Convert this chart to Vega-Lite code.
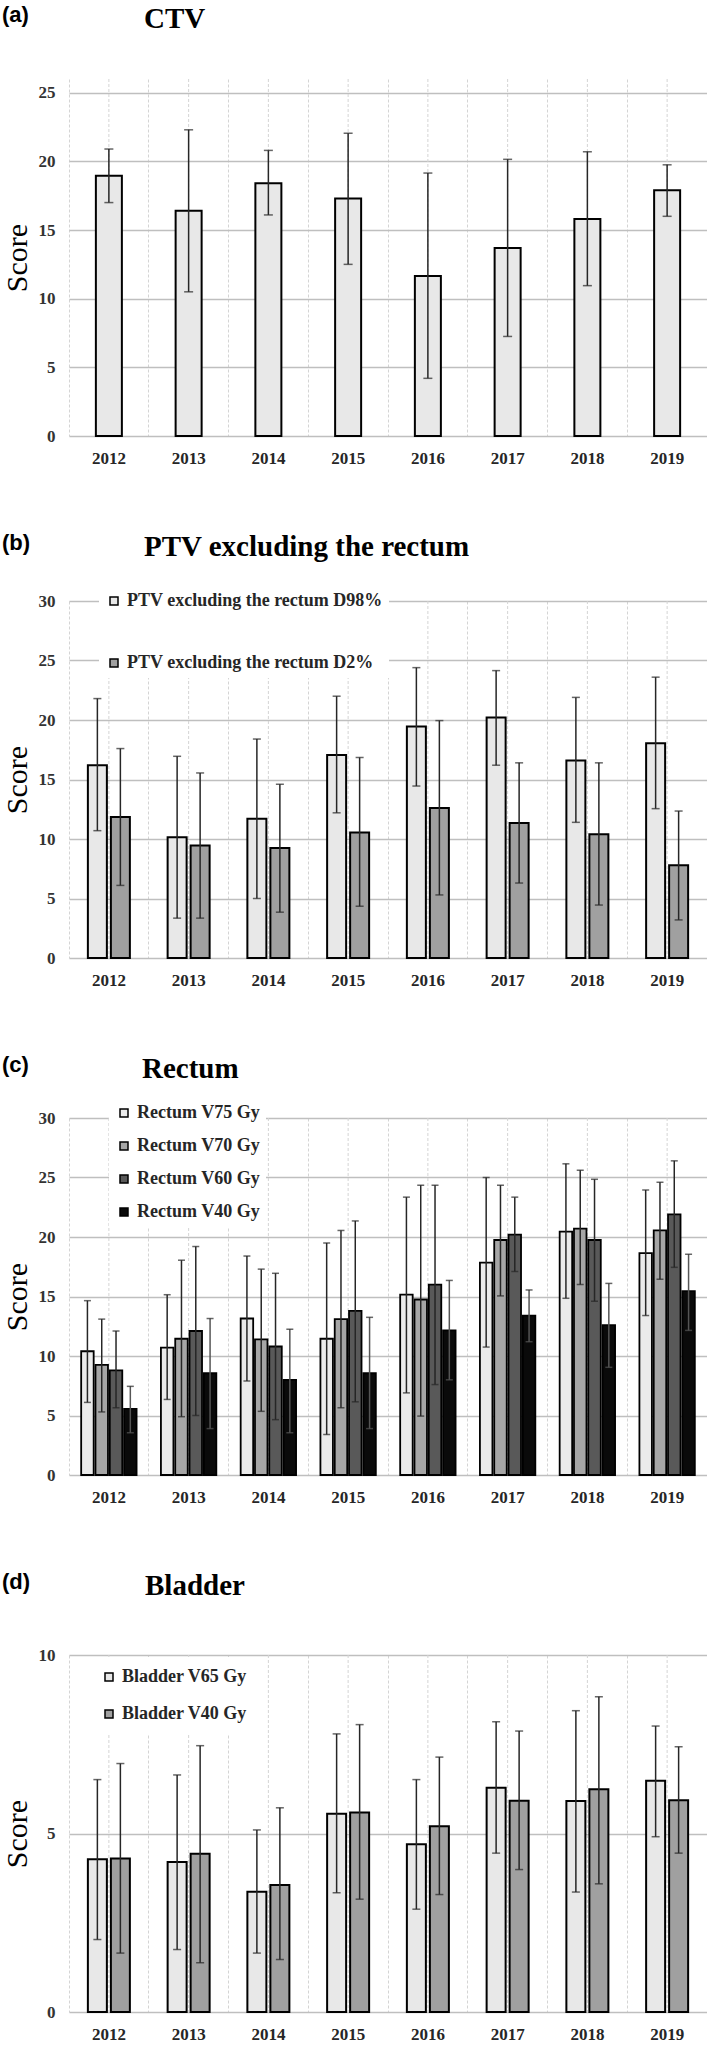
{
  "$schema": "https://vega.github.io/schema/vega-lite/v6.json",
  "padding": {"left": 2, "top": 3, "right": 0, "bottom": 0},
  "spacing": 66,
  "resolve": {"scale": {"color": "independent"}, "legend": {"color": "independent"}},
  "config": {
    "view": {"stroke": null},
    "font": "Liberation Serif",
    "concat": {"spacing": 0},
    "title": {"anchor": "start", "color": "black"},
    "axisX": {"labelAngle": 0, "labelFont": "Liberation Serif", "labelFontSize": 17, "labelFontWeight": "bold", "labelColor": "#262626", "labelPadding": 14, "ticks": false, "domain": false, "grid": true, "bandPosition": 0, "gridDash": [3, 2], "gridColor": "#d4d4d4", "gridWidth": 1},
    "axisY": {"titleFont": "Liberation Serif", "titleFontSize": 30, "titleFontWeight": "normal", "titleColor": "black", "titlePadding": 6, "labelFont": "Liberation Serif", "labelFontWeight": "bold", "labelFontSize": 17, "labelColor": "#333333", "labelPadding": 14, "ticks": false, "domain": false, "grid": true, "gridColor": "#bfbfbf", "gridWidth": 1.5},
    "legend": {"orient": "none", "fillColor": "white", "padding": 6, "symbolType": "square", "symbolSize": 64, "symbolStrokeColor": "black", "symbolStrokeWidth": 1.5, "labelFont": "Liberation Serif", "labelFontWeight": "bold", "labelFontSize": 18, "labelColor": "#262626", "labelOffset": 4, "labelLimit": 400},
    "rule": {"color": "#262626", "strokeWidth": 1.5},
    "tick": {"color": "#262626", "thickness": 1.5}
  },
  "datasets": {
    "ctv": [
      {"year": "2012", "score": 18.95, "low": 17.0, "high": 20.9},
      {"year": "2013", "score": 16.4, "low": 10.5, "high": 22.3},
      {"year": "2014", "score": 18.4, "low": 16.1, "high": 20.8},
      {"year": "2015", "score": 17.3, "low": 12.5, "high": 22.05},
      {"year": "2016", "score": 11.65, "low": 4.2, "high": 19.15},
      {"year": "2017", "score": 13.7, "low": 7.25, "high": 20.15},
      {"year": "2018", "score": 15.8, "low": 10.95, "high": 20.7},
      {"year": "2019", "score": 17.9, "low": 16.0, "high": 19.75}
    ],
    "ptv": [
      {"year": "2012", "series": "PTV excluding the rectum D98%", "score": 16.2, "low": 10.7, "high": 21.8},
      {"year": "2012", "series": "PTV excluding the rectum D2%", "score": 11.85, "low": 6.1, "high": 17.6},
      {"year": "2013", "series": "PTV excluding the rectum D98%", "score": 10.15, "low": 3.35, "high": 16.95},
      {"year": "2013", "series": "PTV excluding the rectum D2%", "score": 9.45, "low": 3.35, "high": 15.55},
      {"year": "2014", "series": "PTV excluding the rectum D98%", "score": 11.7, "low": 5.0, "high": 18.4},
      {"year": "2014", "series": "PTV excluding the rectum D2%", "score": 9.25, "low": 3.85, "high": 14.6},
      {"year": "2015", "series": "PTV excluding the rectum D98%", "score": 17.05, "low": 12.2, "high": 22.0},
      {"year": "2015", "series": "PTV excluding the rectum D2%", "score": 10.55, "low": 4.35, "high": 16.85},
      {"year": "2016", "series": "PTV excluding the rectum D98%", "score": 19.45, "low": 14.45, "high": 24.4},
      {"year": "2016", "series": "PTV excluding the rectum D2%", "score": 12.6, "low": 5.3, "high": 19.95},
      {"year": "2017", "series": "PTV excluding the rectum D98%", "score": 20.2, "low": 16.2, "high": 24.15},
      {"year": "2017", "series": "PTV excluding the rectum D2%", "score": 11.35, "low": 6.3, "high": 16.4},
      {"year": "2018", "series": "PTV excluding the rectum D98%", "score": 16.6, "low": 11.4, "high": 21.9},
      {"year": "2018", "series": "PTV excluding the rectum D2%", "score": 10.4, "low": 4.45, "high": 16.4},
      {"year": "2019", "series": "PTV excluding the rectum D98%", "score": 18.05, "low": 12.55, "high": 23.6},
      {"year": "2019", "series": "PTV excluding the rectum D2%", "score": 7.8, "low": 3.2, "high": 12.35}
    ],
    "rectum": [
      {"year": "2012", "series": "Rectum V75 Gy", "score": 10.4, "low": 6.1, "high": 14.65},
      {"year": "2012", "series": "Rectum V70 Gy", "score": 9.25, "low": 5.3, "high": 13.1},
      {"year": "2012", "series": "Rectum V60 Gy", "score": 8.8, "low": 5.65, "high": 12.1},
      {"year": "2012", "series": "Rectum V40 Gy", "score": 5.55, "low": 3.55, "high": 7.45},
      {"year": "2013", "series": "Rectum V75 Gy", "score": 10.7, "low": 6.35, "high": 15.15},
      {"year": "2013", "series": "Rectum V70 Gy", "score": 11.45, "low": 4.9, "high": 18.05},
      {"year": "2013", "series": "Rectum V60 Gy", "score": 12.1, "low": 5.0, "high": 19.2},
      {"year": "2013", "series": "Rectum V40 Gy", "score": 8.55, "low": 3.9, "high": 13.15},
      {"year": "2014", "series": "Rectum V75 Gy", "score": 13.15, "low": 7.9, "high": 18.4},
      {"year": "2014", "series": "Rectum V70 Gy", "score": 11.4, "low": 5.35, "high": 17.3},
      {"year": "2014", "series": "Rectum V60 Gy", "score": 10.8, "low": 4.65, "high": 16.95},
      {"year": "2014", "series": "Rectum V40 Gy", "score": 8.0, "low": 3.55, "high": 12.25},
      {"year": "2015", "series": "Rectum V75 Gy", "score": 11.45, "low": 3.4, "high": 19.5},
      {"year": "2015", "series": "Rectum V70 Gy", "score": 13.1, "low": 5.65, "high": 20.55},
      {"year": "2015", "series": "Rectum V60 Gy", "score": 13.8, "low": 6.15, "high": 21.35},
      {"year": "2015", "series": "Rectum V40 Gy", "score": 8.55, "low": 3.9, "high": 13.25},
      {"year": "2016", "series": "Rectum V75 Gy", "score": 15.15, "low": 6.9, "high": 23.35},
      {"year": "2016", "series": "Rectum V70 Gy", "score": 14.75, "low": 4.95, "high": 24.35},
      {"year": "2016", "series": "Rectum V60 Gy", "score": 16.0, "low": 7.6, "high": 24.35},
      {"year": "2016", "series": "Rectum V40 Gy", "score": 12.15, "low": 8.0, "high": 16.35},
      {"year": "2017", "series": "Rectum V75 Gy", "score": 17.85, "low": 10.75, "high": 25.0},
      {"year": "2017", "series": "Rectum V70 Gy", "score": 19.75, "low": 15.05, "high": 24.35},
      {"year": "2017", "series": "Rectum V60 Gy", "score": 20.2, "low": 17.1, "high": 23.35},
      {"year": "2017", "series": "Rectum V40 Gy", "score": 13.4, "low": 11.2, "high": 15.55},
      {"year": "2018", "series": "Rectum V75 Gy", "score": 20.45, "low": 14.85, "high": 26.15},
      {"year": "2018", "series": "Rectum V70 Gy", "score": 20.7, "low": 16.0, "high": 25.6},
      {"year": "2018", "series": "Rectum V60 Gy", "score": 19.75, "low": 14.6, "high": 24.85},
      {"year": "2018", "series": "Rectum V40 Gy", "score": 12.6, "low": 9.05, "high": 16.1},
      {"year": "2019", "series": "Rectum V75 Gy", "score": 18.65, "low": 13.4, "high": 23.95},
      {"year": "2019", "series": "Rectum V70 Gy", "score": 20.55, "low": 16.45, "high": 24.6},
      {"year": "2019", "series": "Rectum V60 Gy", "score": 21.9, "low": 17.45, "high": 26.4},
      {"year": "2019", "series": "Rectum V40 Gy", "score": 15.45, "low": 12.15, "high": 18.55}
    ],
    "bladder": [
      {"year": "2012", "series": "Bladder V65 Gy", "score": 4.28, "low": 2.03, "high": 6.51},
      {"year": "2012", "series": "Bladder V40 Gy", "score": 4.3, "low": 1.65, "high": 6.96},
      {"year": "2013", "series": "Bladder V65 Gy", "score": 4.2, "low": 1.75, "high": 6.64},
      {"year": "2013", "series": "Bladder V40 Gy", "score": 4.43, "low": 1.38, "high": 7.46},
      {"year": "2014", "series": "Bladder V65 Gy", "score": 3.37, "low": 1.65, "high": 5.1},
      {"year": "2014", "series": "Bladder V40 Gy", "score": 3.56, "low": 1.47, "high": 5.72},
      {"year": "2015", "series": "Bladder V65 Gy", "score": 5.55, "low": 3.34, "high": 7.79},
      {"year": "2015", "series": "Bladder V40 Gy", "score": 5.59, "low": 3.16, "high": 8.05},
      {"year": "2016", "series": "Bladder V65 Gy", "score": 4.7, "low": 2.88, "high": 6.51},
      {"year": "2016", "series": "Bladder V40 Gy", "score": 5.2, "low": 3.29, "high": 7.14},
      {"year": "2017", "series": "Bladder V65 Gy", "score": 6.28, "low": 4.45, "high": 8.13},
      {"year": "2017", "series": "Bladder V40 Gy", "score": 5.92, "low": 3.99, "high": 7.87},
      {"year": "2018", "series": "Bladder V65 Gy", "score": 5.91, "low": 3.36, "high": 8.44},
      {"year": "2018", "series": "Bladder V40 Gy", "score": 6.24, "low": 3.59, "high": 8.83},
      {"year": "2019", "series": "Bladder V65 Gy", "score": 6.48, "low": 4.91, "high": 8.01},
      {"year": "2019", "series": "Bladder V40 Gy", "score": 5.93, "low": 4.45, "high": 7.43}
    ]
  },
  "vconcat": [
    {
      "title": {"text": "(a)", "frame": "bounds", "font": "Liberation Sans", "fontSize": 22, "fontWeight": "bold", "offset": -22},
      "vconcat": [{
        "width": 638, "height": 357,
        "title": {"text": "CTV", "frame": "group", "dx": 75, "font": "Liberation Serif", "fontSize": 29, "fontWeight": "bold", "offset": 45},
        "data": {"name": "ctv"},
        "encoding": {"x": {"field": "year", "type": "nominal", "title": null, "scale": {"paddingInner": 0, "paddingOuter": 0}}},
        "layer": [
          {"mark": {"type": "rule", "strokeDash": [3, 2], "color": "#d4d4d4", "strokeWidth": 1}, "encoding": {}},
          {"mark": {"type": "bar", "width": 26, "fill": "#e8e8e8", "stroke": "black", "strokeWidth": 2},
           "encoding": {"y": {"field": "score", "type": "quantitative", "title": "Score", "scale": {"domain": [0, 25]}, "axis": {"values": [0, 5, 10, 15, 20, 25]}}}},
          {"mark": {"type": "rule"}, "encoding": {"y": {"field": "low", "type": "quantitative"}, "y2": {"field": "high"}}},
          {"mark": {"type": "tick"}, "encoding": {"y": {"field": "low", "type": "quantitative"}, "size": {"value": 9}}},
          {"mark": {"type": "tick"}, "encoding": {"y": {"field": "high", "type": "quantitative"}, "size": {"value": 9}}}
        ]
      }]
    },
    {
      "title": {"text": "(b)", "frame": "bounds", "font": "Liberation Sans", "fontSize": 22, "fontWeight": "bold", "offset": -22},
      "vconcat": [{
        "width": 638, "height": 357,
        "title": {"text": "PTV excluding the rectum", "frame": "group", "dx": 75, "font": "Liberation Serif", "fontSize": 29, "fontWeight": "bold", "offset": 30},
        "data": {"name": "ptv"},
        "encoding": {
          "x": {"field": "year", "type": "nominal", "title": null, "scale": {"paddingInner": 0, "paddingOuter": 0}},
          "y": {"field": "score", "type": "quantitative", "title": "Score", "scale": {"domain": [0, 30]}, "axis": {"values": [0, 5, 10, 15, 20, 25, 30]}}
        },
        "layer": [
          {"transform": [{"filter": "datum.series == 'PTV excluding the rectum D98%'"}], "mark": {"type": "rule", "strokeDash": [3, 2], "color": "#d4d4d4", "strokeWidth": 1}, "encoding": {"y": null}},
          {"transform": [{"filter": "datum.series == 'PTV excluding the rectum D98%'"}],
           "layer": [
             {"mark": {"type": "bar", "width": 19, "xOffset": -11.5, "stroke": "black", "strokeWidth": 2},
              "encoding": {"color": {"field": "series", "type": "nominal", "scale": {"domain": ["PTV excluding the rectum D98%", "PTV excluding the rectum D2%"], "range": ["#e8e8e8", "#a0a0a0"]}, "legend": {"title": null, "legendX": 30, "legendY": -15, "rowPadding": 44}}}},
             {"mark": {"type": "rule", "xOffset": -11.5}, "encoding": {"y": {"field": "low", "type": "quantitative"}, "y2": {"field": "high"}}},
             {"mark": {"type": "tick", "xOffset": -11.5}, "encoding": {"y": {"field": "low", "type": "quantitative"}, "size": {"value": 8}}},
             {"mark": {"type": "tick", "xOffset": -11.5}, "encoding": {"y": {"field": "high", "type": "quantitative"}, "size": {"value": 8}}}
           ]},
          {"transform": [{"filter": "datum.series == 'PTV excluding the rectum D2%'"}],
           "layer": [
             {"mark": {"type": "bar", "width": 19, "xOffset": 11.5, "stroke": "black", "strokeWidth": 2},
              "encoding": {"color": {"field": "series", "type": "nominal", "scale": {"domain": ["PTV excluding the rectum D98%", "PTV excluding the rectum D2%"], "range": ["#e8e8e8", "#a0a0a0"]}, "legend": {"title": null, "legendX": 30, "legendY": -15, "rowPadding": 44}}}},
             {"mark": {"type": "rule", "xOffset": 11.5}, "encoding": {"y": {"field": "low", "type": "quantitative"}, "y2": {"field": "high"}}},
             {"mark": {"type": "tick", "xOffset": 11.5}, "encoding": {"y": {"field": "low", "type": "quantitative"}, "size": {"value": 8}}},
             {"mark": {"type": "tick", "xOffset": 11.5}, "encoding": {"y": {"field": "high", "type": "quantitative"}, "size": {"value": 8}}}
           ]}
        ]
      }]
    },
    {
      "title": {"text": "(c)", "frame": "bounds", "font": "Liberation Sans", "fontSize": 22, "fontWeight": "bold", "offset": -22},
      "vconcat": [{
        "width": 638, "height": 357,
        "title": {"text": "Rectum", "frame": "group", "dx": 73, "font": "Liberation Serif", "fontSize": 29, "fontWeight": "bold", "offset": 25},
        "data": {"name": "rectum"},
        "encoding": {
          "x": {"field": "year", "type": "nominal", "title": null, "scale": {"paddingInner": 0, "paddingOuter": 0}},
          "y": {"field": "score", "type": "quantitative", "title": "Score", "scale": {"domain": [0, 30]}, "axis": {"values": [0, 5, 10, 15, 20, 25, 30]}}
        },
        "layer": [
          {"transform": [{"filter": "datum.series == 'Rectum V75 Gy'"}], "mark": {"type": "rule", "strokeDash": [3, 2], "color": "#d4d4d4", "strokeWidth": 1}, "encoding": {"y": null}},
          {"transform": [{"filter": "datum.series == 'Rectum V75 Gy'"}],
           "layer": [
             {"mark": {"type": "bar", "width": 12.5, "xOffset": -21.45, "stroke": "black", "strokeWidth": 1.8},
              "encoding": {"color": {"field": "series", "type": "nominal", "scale": {"domain": ["Rectum V75 Gy", "Rectum V70 Gy", "Rectum V60 Gy", "Rectum V40 Gy"], "range": ["#ebebeb", "#a6a6a6", "#595959", "#0a0a0a"]}, "legend": {"title": null, "legendX": 40, "legendY": -20, "rowPadding": 15}}}},
             {"mark": {"type": "rule", "xOffset": -21.45}, "encoding": {"y": {"field": "low", "type": "quantitative"}, "y2": {"field": "high"}}},
             {"mark": {"type": "tick", "xOffset": -21.45}, "encoding": {"y": {"field": "low", "type": "quantitative"}, "size": {"value": 7}}},
             {"mark": {"type": "tick", "xOffset": -21.45}, "encoding": {"y": {"field": "high", "type": "quantitative"}, "size": {"value": 7}}}
           ]},
          {"transform": [{"filter": "datum.series == 'Rectum V70 Gy'"}],
           "layer": [
             {"mark": {"type": "bar", "width": 12.5, "xOffset": -7.15, "stroke": "black", "strokeWidth": 1.8},
              "encoding": {"color": {"field": "series", "type": "nominal", "scale": {"domain": ["Rectum V75 Gy", "Rectum V70 Gy", "Rectum V60 Gy", "Rectum V40 Gy"], "range": ["#ebebeb", "#a6a6a6", "#595959", "#0a0a0a"]}, "legend": {"title": null, "legendX": 40, "legendY": -20, "rowPadding": 15}}}},
             {"mark": {"type": "rule", "xOffset": -7.15}, "encoding": {"y": {"field": "low", "type": "quantitative"}, "y2": {"field": "high"}}},
             {"mark": {"type": "tick", "xOffset": -7.15}, "encoding": {"y": {"field": "low", "type": "quantitative"}, "size": {"value": 7}}},
             {"mark": {"type": "tick", "xOffset": -7.15}, "encoding": {"y": {"field": "high", "type": "quantitative"}, "size": {"value": 7}}}
           ]},
          {"transform": [{"filter": "datum.series == 'Rectum V60 Gy'"}],
           "layer": [
             {"mark": {"type": "bar", "width": 12.5, "xOffset": 7.15, "stroke": "black", "strokeWidth": 1.8},
              "encoding": {"color": {"field": "series", "type": "nominal", "scale": {"domain": ["Rectum V75 Gy", "Rectum V70 Gy", "Rectum V60 Gy", "Rectum V40 Gy"], "range": ["#ebebeb", "#a6a6a6", "#595959", "#0a0a0a"]}, "legend": {"title": null, "legendX": 40, "legendY": -20, "rowPadding": 15}}}},
             {"mark": {"type": "rule", "xOffset": 7.15}, "encoding": {"y": {"field": "low", "type": "quantitative"}, "y2": {"field": "high"}}},
             {"mark": {"type": "tick", "xOffset": 7.15}, "encoding": {"y": {"field": "low", "type": "quantitative"}, "size": {"value": 7}}},
             {"mark": {"type": "tick", "xOffset": 7.15}, "encoding": {"y": {"field": "high", "type": "quantitative"}, "size": {"value": 7}}}
           ]},
          {"transform": [{"filter": "datum.series == 'Rectum V40 Gy'"}],
           "layer": [
             {"mark": {"type": "bar", "width": 12.5, "xOffset": 21.45, "stroke": "black", "strokeWidth": 1.8},
              "encoding": {"color": {"field": "series", "type": "nominal", "scale": {"domain": ["Rectum V75 Gy", "Rectum V70 Gy", "Rectum V60 Gy", "Rectum V40 Gy"], "range": ["#ebebeb", "#a6a6a6", "#595959", "#0a0a0a"]}, "legend": {"title": null, "legendX": 40, "legendY": -20, "rowPadding": 15}}}},
             {"mark": {"type": "rule", "xOffset": 21.45, "color": "#555555"}, "encoding": {"y": {"field": "low", "type": "quantitative"}, "y2": {"field": "high"}}},
             {"mark": {"type": "tick", "xOffset": 21.45, "color": "#555555"}, "encoding": {"y": {"field": "low", "type": "quantitative"}, "size": {"value": 7}}},
             {"mark": {"type": "tick", "xOffset": 21.45}, "encoding": {"y": {"field": "high", "type": "quantitative"}, "size": {"value": 7}}}
           ]}
        ]
      }]
    },
    {
      "title": {"text": "(d)", "frame": "bounds", "font": "Liberation Sans", "fontSize": 22, "fontWeight": "bold", "offset": -22},
      "vconcat": [{
        "width": 638, "height": 357,
        "title": {"text": "Bladder", "frame": "group", "dx": 76, "font": "Liberation Serif", "fontSize": 29, "fontWeight": "bold", "offset": 45},
        "data": {"name": "bladder"},
        "encoding": {
          "x": {"field": "year", "type": "nominal", "title": null, "scale": {"paddingInner": 0, "paddingOuter": 0}},
          "y": {"field": "score", "type": "quantitative", "title": "Score", "scale": {"domain": [0, 10]}, "axis": {"values": [0, 5, 10]}}
        },
        "layer": [
          {"transform": [{"filter": "datum.series == 'Bladder V65 Gy'"}], "mark": {"type": "rule", "strokeDash": [3, 2], "color": "#d4d4d4", "strokeWidth": 1}, "encoding": {"y": null}},
          {"transform": [{"filter": "datum.series == 'Bladder V65 Gy'"}],
           "layer": [
             {"mark": {"type": "bar", "width": 19, "xOffset": -11.5, "stroke": "black", "strokeWidth": 2},
              "encoding": {"color": {"field": "series", "type": "nominal", "scale": {"domain": ["Bladder V65 Gy", "Bladder V40 Gy"], "range": ["#e8e8e8", "#a0a0a0"]}, "legend": {"title": null, "legendX": 20, "legendY": 2, "padding": 11, "rowPadding": 19}}}},
             {"mark": {"type": "rule", "xOffset": -11.5}, "encoding": {"y": {"field": "low", "type": "quantitative"}, "y2": {"field": "high"}}},
             {"mark": {"type": "tick", "xOffset": -11.5}, "encoding": {"y": {"field": "low", "type": "quantitative"}, "size": {"value": 8}}},
             {"mark": {"type": "tick", "xOffset": -11.5}, "encoding": {"y": {"field": "high", "type": "quantitative"}, "size": {"value": 8}}}
           ]},
          {"transform": [{"filter": "datum.series == 'Bladder V40 Gy'"}],
           "layer": [
             {"mark": {"type": "bar", "width": 19, "xOffset": 11.5, "stroke": "black", "strokeWidth": 2},
              "encoding": {"color": {"field": "series", "type": "nominal", "scale": {"domain": ["Bladder V65 Gy", "Bladder V40 Gy"], "range": ["#e8e8e8", "#a0a0a0"]}, "legend": {"title": null, "legendX": 20, "legendY": 2, "padding": 11, "rowPadding": 19}}}},
             {"mark": {"type": "rule", "xOffset": 11.5}, "encoding": {"y": {"field": "low", "type": "quantitative"}, "y2": {"field": "high"}}},
             {"mark": {"type": "tick", "xOffset": 11.5}, "encoding": {"y": {"field": "low", "type": "quantitative"}, "size": {"value": 8}}},
             {"mark": {"type": "tick", "xOffset": 11.5}, "encoding": {"y": {"field": "high", "type": "quantitative"}, "size": {"value": 8}}}
           ]}
        ]
      }]
    }
  ]
}
